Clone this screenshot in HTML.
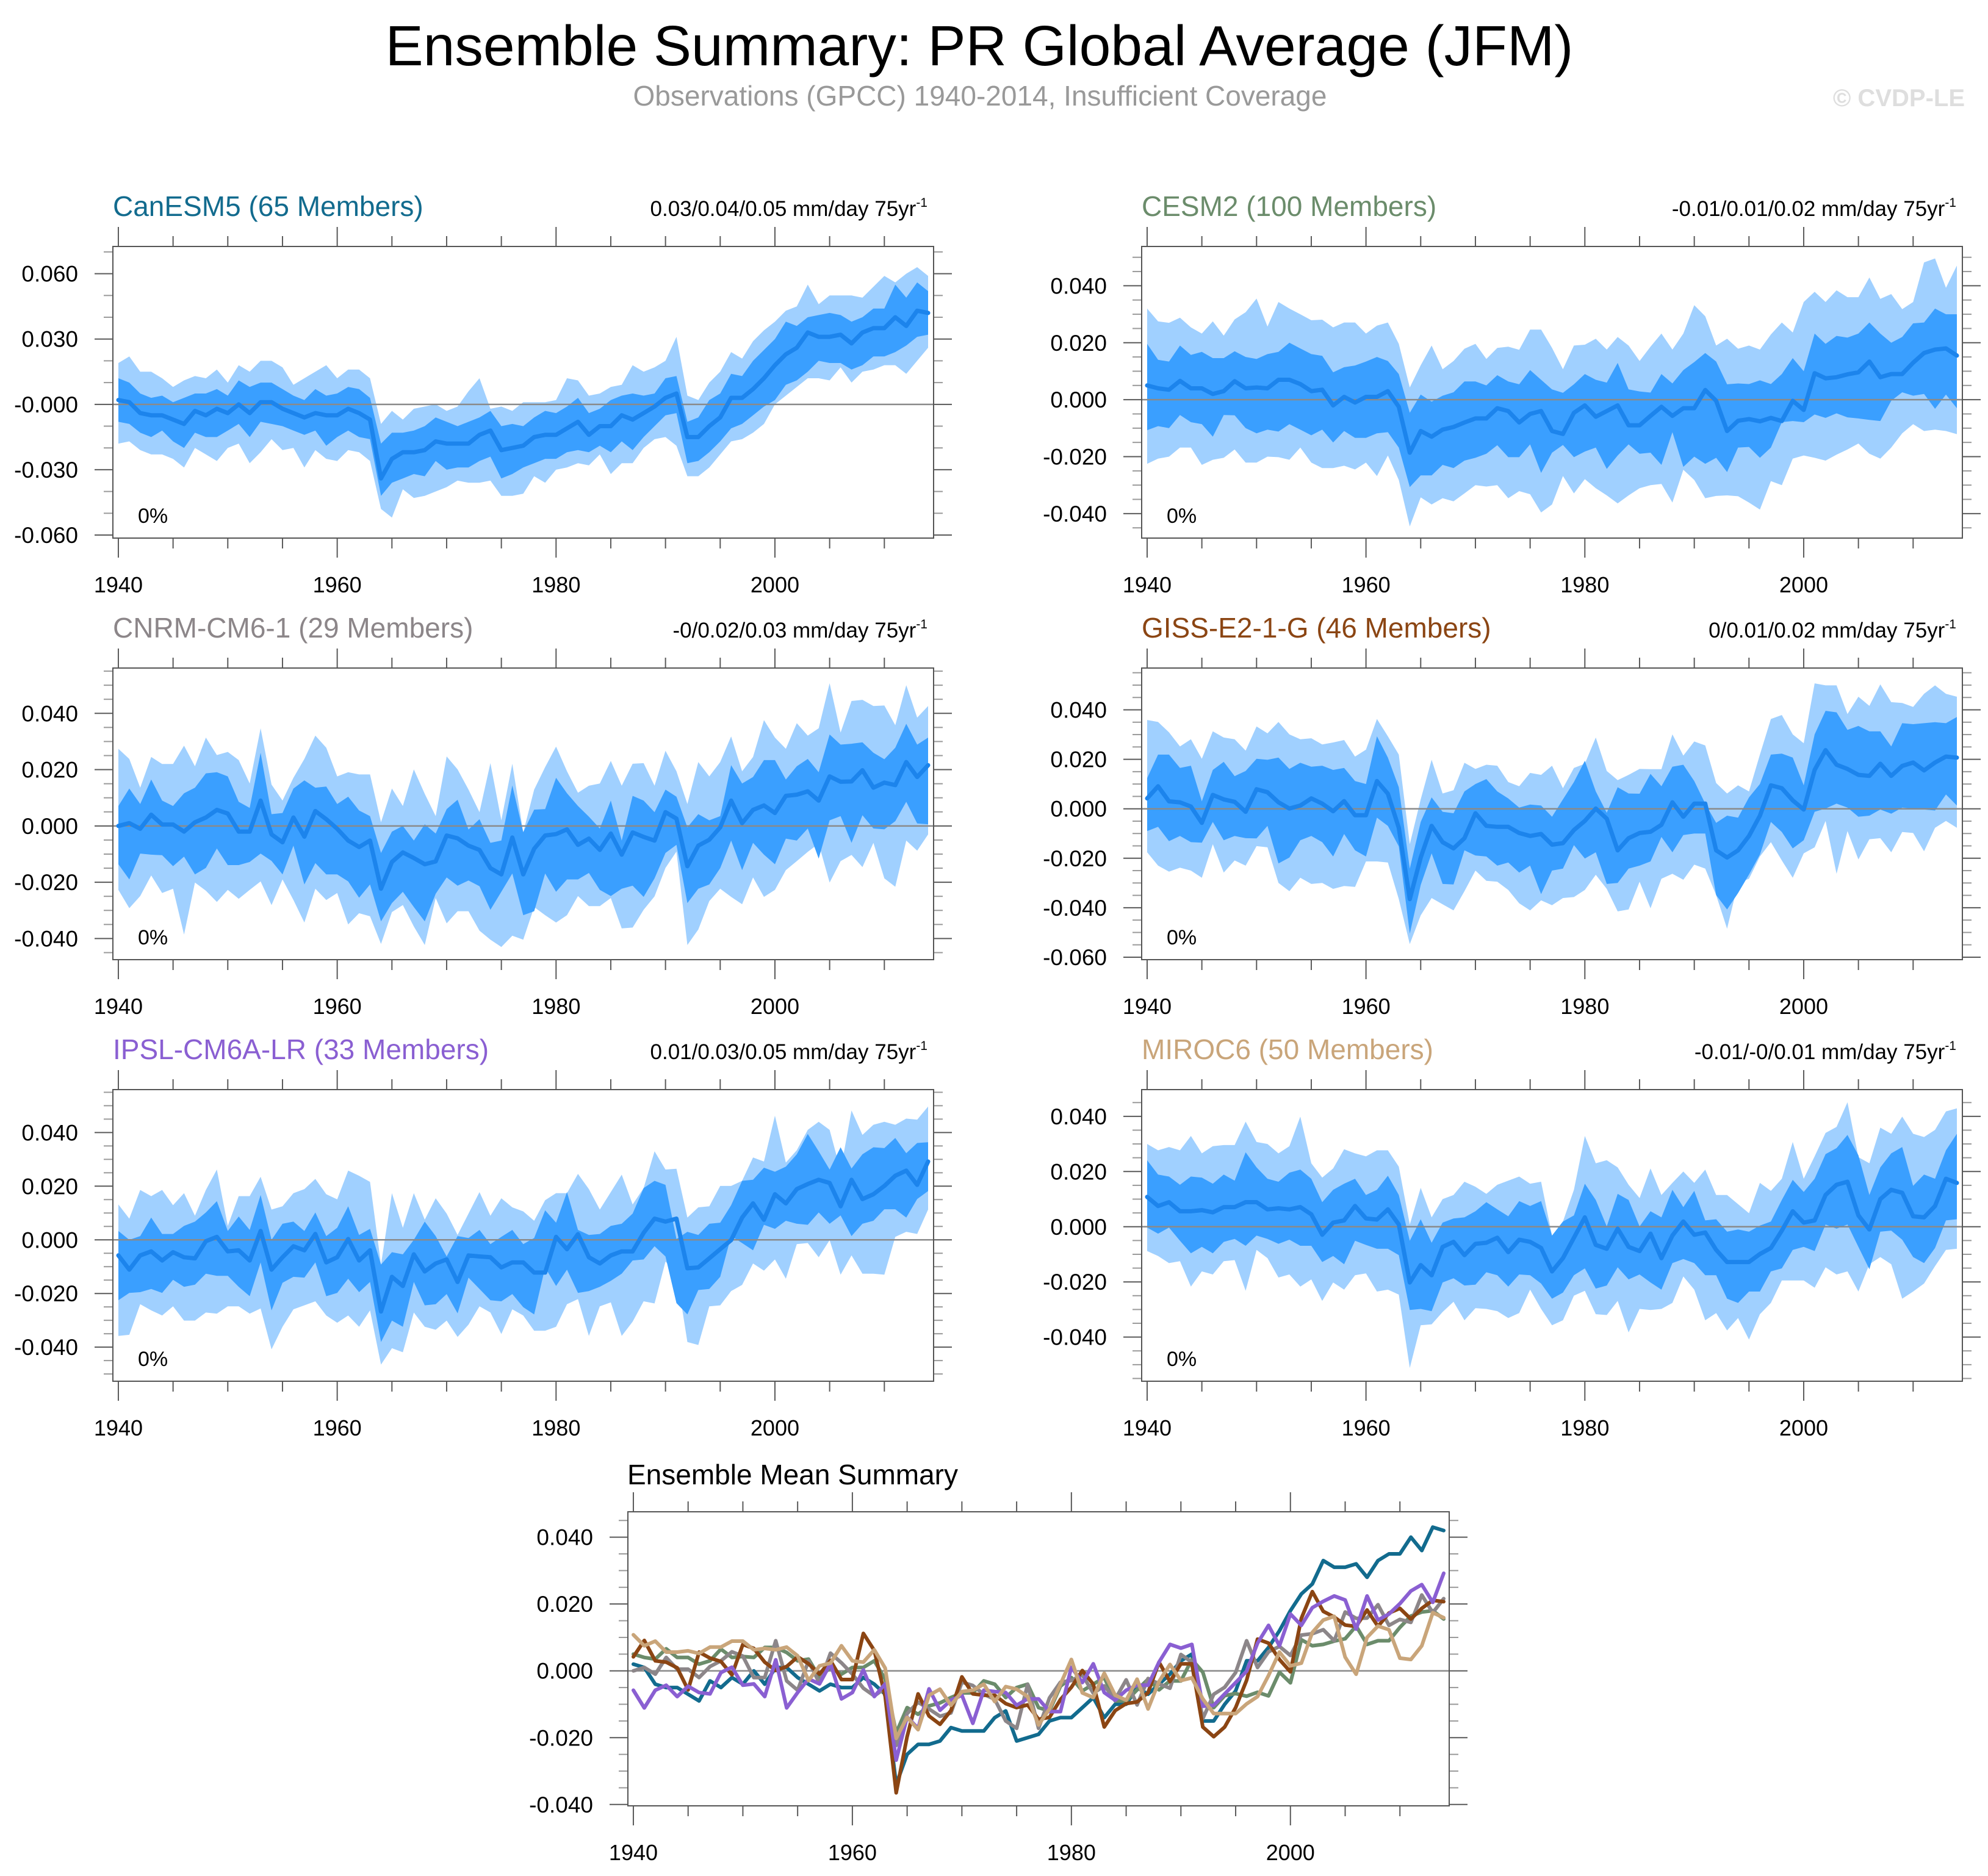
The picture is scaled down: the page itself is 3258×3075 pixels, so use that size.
<!DOCTYPE html>
<html><head><meta charset="utf-8"><title>Ensemble Summary: PR Global Average (JFM)</title>
<style>
html,body{margin:0;padding:0;background:#fff;}
svg{display:block;font-family:"Liberation Sans",Arial,sans-serif;}
</style></head>
<body>
<svg id="chart" xmlns="http://www.w3.org/2000/svg" width="3258" height="3075" viewBox="0 0 3258 3075">
<rect x="0" y="0" width="3258" height="3075" fill="#fff"/>
<text x="1605" y="107" font-size="93" text-anchor="middle" fill="#000">Ensemble Summary: PR Global Average (JFM)</text>
<text x="1606" y="173" font-size="46" text-anchor="middle" fill="#999">Observations (GPCC) 1940-2014, Insufficient Coverage</text>
<text x="3220" y="174" font-size="40" font-weight="bold" text-anchor="end" fill="#dedede">© CVDP-LE</text>
</svg>
<script>
// values in units of 0.001 mm/day, years 1940..2014
const firstYear = 1940;
const nYears = 75;
const xTickYears = [1940,1960,1980,2000];
const yTicksA = [0.06,0.03,0,-0.03,-0.06];
const yLabelsA = ['0.060','0.030','-0.000','-0.030','-0.060'];
const yTicksB = [0.04,0.02,0,-0.02,-0.04];
const yLabelsB = ['0.040','0.020','0.000','-0.020','-0.040'];
const yTicksC = [0.04,0.02,0,-0.02,-0.04,-0.06];
const yLabelsC = ['0.040','0.020','0.000','-0.020','-0.040','-0.060'];

const canMean = [2,1,-4,-5,-5,-7,-9,-3,-5,-2,-4,0,-4,1,1,-2,-4,-6,-4,-5,-5,-2,-4,-7,-34,-25,-22,-22,-21,-17,-18,-18,-18,-14,-12,-21,-20,-19,-15,-14,-14,-11,-8,-14,-10,-10,-5,-7,-4,-1,3,5,-15,-15,-10,-6,3,3,7,12,18,23,26,33,31,31,32,28,33,35,35,40,36,43,42];
const canInHi = [12,10,5,3,4,1,3,5,5,7,4,11,8,10,10,7,4,2,7,4,5,8,7,3,-18,-13,-13,-12,-10,-6,-8,-10,-8,-6,-3,-10,-9,-10,-6,-3,-4,-1,3,-4,-2,2,4,5,4,5,12,13,-8,-6,2,5,14,13,20,25,30,38,36,40,41,42,41,38,40,44,44,55,49,56,52];
const canInLo = [-8,-9,-13,-15,-12,-17,-20,-13,-15,-15,-12,-9,-15,-8,-9,-10,-12,-14,-12,-19,-15,-12,-15,-16,-42,-36,-34,-32,-33,-26,-30,-29,-29,-26,-24,-34,-32,-29,-27,-25,-25,-22,-21,-22,-19,-22,-17,-21,-15,-10,-5,-4,-27,-26,-22,-17,-11,-9,-5,-1,2,9,11,15,20,19,19,16,18,22,22,24,27,31,32];
const canOutHi = [19,22,15,15,12,8,11,13,12,16,10,18,15,20,20,17,9,12,15,18,12,16,16,12,-9,-3,-7,-2,-1,0,-3,-1,6,12,-2,-1,-3,1,1,1,2,12,11,4,5,8,9,18,15,17,20,31,4,2,10,15,24,21,29,34,38,43,45,55,46,50,50,50,49,54,59,56,60,63,59];
const canOutLo = [-18,-17,-21,-23,-23,-25,-29,-20,-23,-26,-20,-18,-27,-22,-16,-21,-20,-29,-21,-25,-26,-21,-22,-26,-48,-52,-39,-43,-42,-40,-38,-35,-36,-36,-35,-42,-42,-41,-33,-36,-30,-29,-27,-28,-23,-32,-27,-27,-20,-16,-15,-19,-33,-33,-29,-23,-17,-16,-13,-9,0,4,8,12,12,11,17,10,15,16,18,18,14,20,26];

const cesMean = [5,4,3.5,6.6,4,4,2,3,6.5,4,4.3,4,7,7,5.5,3,3.5,-2,1,-1,1,1,3,-2.5,-18.6,-11,-13,-10.5,-9.6,-8,-6.6,-6.6,-3,-4,-8,-5,-4,-11,-12,-4.6,-2,-6,-4,-2,-9,-9,-5.7,-2.5,-5.7,-3,-3,3.4,-0.4,-11,-7.4,-6.8,-7.6,-6.4,-7.5,-0.4,-3.6,9.3,7.5,7.9,8.9,9.6,13.4,7.9,9,9,13,16.4,17.6,18,15.5];
const cesInHi = [19.6,14,13.4,19,15.7,16.8,14.6,14.6,17,15,14.3,16,16.8,20,18,16,15.4,9.6,11.4,12,13.4,15,13.6,9,-4.6,1.8,-0.7,1.4,2.6,6.4,6.4,5,8.6,6.4,5.4,10.4,7,3.6,2.4,5.4,9,7,6,12.9,3.6,2.9,2.5,9,5.7,10.4,13.2,16.4,13.4,5.4,5.7,5.5,6.8,5.5,9,14.6,10,23.2,19.6,22.4,21.8,23.2,27.1,23.2,20,22,26.8,27.1,32,30,30];
const cesInLo = [-10.7,-9.3,-10,-5.4,-7.9,-8.6,-13,-5.4,-5.5,-10,-11.8,-10.5,-11.2,-8.6,-10.5,-12.5,-10.5,-15,-11,-13.4,-13.4,-11.8,-11.4,-16.8,-30.7,-26.6,-26.6,-22.9,-24,-21.4,-20.4,-19,-16,-20.2,-20.2,-15.7,-25.7,-18.6,-15.9,-20.2,-18.2,-16.8,-24.3,-19.6,-15.7,-19,-18.6,-22.9,-11.4,-23.6,-20,-22.5,-20.4,-25.4,-16.8,-16.6,-20.4,-16.8,-7.9,-7.5,-7.9,-5.2,-6.4,-4.8,-6.2,-6.6,-7.1,-7.5,-0.4,2.6,1.4,2,-3.2,1.8,-3];
const cesOutHi = [32,27.5,27,28.8,25.4,23.2,27.5,22.5,28.2,30.7,35.5,25.7,34.3,32,30,27.9,28.1,25.4,27.1,27.1,23.2,26,27.1,19.6,4.3,12.1,19,10.7,13.6,17.9,19.6,14.3,18.2,18.6,17.5,24.6,24.6,18.2,10.7,19,19.3,21.4,17.6,22,19,13.6,18.6,23.2,17.6,23.2,33.2,29.3,19,21.4,17.9,19,17.6,22.9,27.1,23.6,34.3,37.9,34.3,38.4,36,36,42.9,35.4,37.1,31.8,34.3,48.2,49.6,39.3,47.1];
const cesOutLo = [-22.5,-20.7,-20,-16.8,-16.8,-22.9,-21.1,-20.4,-17.5,-22.1,-22.1,-20,-20.2,-21.1,-16.8,-22.1,-24,-24,-23.2,-24.5,-22.1,-26.8,-19.6,-28.2,-44.5,-34.3,-36.8,-34.6,-35.7,-32.9,-30,-30.5,-30,-34.6,-32.1,-33.2,-39.6,-36.8,-26.8,-32.9,-27.9,-31.1,-33.6,-36.4,-33.6,-31.1,-30,-29.6,-36.1,-24.6,-28.2,-34.6,-33.8,-33.6,-33.9,-36.1,-38.6,-28.6,-30,-20.7,-19.6,-20.4,-21.4,-19.3,-17.5,-15.4,-19,-20.7,-16.8,-11.8,-8.6,-11,-10.5,-11,-12.1];

const cnrMean = [0,1,-1,4,0.5,0.5,-2,1.3,3,5.7,4.4,-2,-2,9,-3,-5.8,3,-3.8,5.3,2.4,-1,-5.2,-7.5,-5.2,-22.3,-12.8,-9.4,-11.4,-13.6,-12.6,-3.4,-4.4,-7,-8.5,-15,-17.2,-4.1,-17.2,-8.1,-3.4,-2.9,-1.2,-6.7,-4.5,-8.5,-2.7,-10.2,-2.3,-3.9,-5.2,4.9,2.6,-14.3,-7,-4.9,-0.5,9,1,5.7,7.3,4.6,10.7,11.1,12.3,9,17.6,15.7,15.8,19.8,13.6,15.4,14.5,22.7,17.4,21.6];
const cnrInHi = [7.1,13.3,7.8,16.5,9,7.1,11.6,13.6,18.7,19.1,17.6,8.6,6.4,26,4.2,4.6,13.3,16.2,13.6,14,7.8,10.4,5.5,3.5,-9.6,-2,0,-5.2,0.6,-2.7,6,9.3,-1.3,2.4,-6,-5.2,14.4,-2.2,5.8,6,17.1,11.6,7.1,3.3,-0.9,9,-5.2,10.7,9,4.9,12.9,10.4,-0.5,4.2,2,3.5,21.6,15.1,17.4,23.4,23.4,16.5,21.2,23.8,19.1,32.5,28.9,29.2,29.7,26,23.7,27.8,36.3,28.9,31.4];
const cnrInLo = [-13.6,-19,-9.8,-10.2,-10.4,-14.3,-10.9,-17.2,-14.9,-8,-13.9,-13.9,-12.8,-9.8,-12.4,-17.2,-7,-20.8,-13.2,-17.2,-17.2,-19.7,-25.5,-20.8,-33.9,-27.4,-23.4,-28.8,-33.9,-24.1,-18.3,-21.2,-19.4,-21.4,-29.8,-23.4,-16.9,-31.7,-30.3,-16.9,-23.4,-19,-19,-16.7,-22.7,-24.9,-22.3,-21.2,-25.2,-18.6,-9.6,-6.7,-27.4,-22.3,-20.8,-15,-5.2,-15.7,-6,-10.2,-13.6,-4.5,-5.2,-0.9,-11.6,2,3.5,-6,3.8,-0.9,-1.2,1.7,8.6,0.9,0.6];
const cnrOutHi = [27.4,23.8,13.6,24.5,22,22,28.5,21.2,31.4,25.2,26.3,23.4,15.1,34.7,14.7,9,17.1,23.8,32.1,27.8,17.6,19.1,18.3,18.3,1.3,13.3,7.1,20.1,11.4,3.5,24.7,20.1,12.9,4.9,22.3,2,22.1,-2.3,12.9,20.9,28.2,19.4,11.8,14.3,15.1,23.1,14.3,22.1,22.3,14.3,26.7,19.4,7.8,22.7,17.6,22.7,31.8,19.4,24.5,37.6,31.4,27.4,36.5,32.1,34.7,50.7,33.2,44.4,44.8,42.6,42.8,35.8,50,38.5,42.6];
const cnrOutLo = [-22.7,-29.2,-24.9,-17.6,-23.8,-22.3,-38.6,-20.1,-23,-27,-22.7,-25.9,-22.7,-19.7,-28.1,-19,-26.3,-34.3,-22.3,-26.3,-23.8,-35,-31,-32.1,-41.9,-30.6,-28.1,-35.7,-42.3,-25.6,-34.6,-30.3,-30.3,-37.2,-40.4,-43,-39,-40.4,-28.8,-31.7,-34.3,-31.7,-24.9,-28.5,-28.5,-25.6,-36.4,-36.1,-29.8,-25,-14.9,-9.1,-42.3,-36.8,-26.7,-22.3,-25.2,-27.8,-18.3,-25.2,-22.7,-15.7,-12.5,-9.2,-6.3,-20.1,-12.5,-10.3,-14.6,-6,-18.6,-21.6,-5.2,-8.8,-3];

const gisMean = [4.2,9.1,3,2.6,0.9,-5.7,5.6,3.8,2.8,-1.2,7.9,6.7,2.6,0.1,1.3,4.2,2.1,-1,3.1,-2.6,-2.6,11.2,6.1,-7.7,-36.5,-19.7,-6.9,-13.5,-16,-11.9,-1.8,-6.9,-7.3,-7.3,-9.8,-11,-10.2,-14.5,-13.9,-8.6,-4.9,0.1,-4,-16.8,-11.9,-9.8,-9.3,-6.5,2.6,-3.2,2.1,2.1,-16.8,-19.7,-16.8,-11,-2.8,9.5,8.3,3.4,-0.3,15.7,23.7,17.8,16.1,13.7,13.3,18.2,13.3,17.3,18.7,15.5,18.7,21.1,20.7];
const gisInHi = [12.4,21.9,21.9,16.5,17.4,3,15.7,19,13.2,15.3,20.2,19.8,20.7,16.1,18.6,17,17.4,15.7,16.5,11.2,10,29.3,20.7,8.7,-24.2,-5.3,4.6,-1.2,-1.8,7,10,12,7,4.2,0.5,1.7,1.3,-3.2,3.8,10.8,19.4,7,-1.6,8.7,6.2,6.1,14.1,9.1,17,17.8,11.2,2.1,-5.7,-2.8,-3.6,4.6,10,21.9,22.3,20.7,9.5,30.1,39.6,39,31.9,33.5,31.3,31.3,25.2,34.6,34.2,34.6,35,34.6,37.1];
const gisInLo = [-9,-7.3,-13.1,-11,-13.5,-13.7,-5.3,-12.7,-11,-11.9,-12,-6.9,-22.1,-19.7,-12.7,-11,-13.5,-19.3,-10.2,-16.8,-19.3,-3.6,-6.9,-15.2,-50.5,-30.8,-18,-30.4,-30.6,-16.8,-18.9,-19.3,-23,-21.7,-25.8,-23,-34.5,-25,-24.2,-14.7,-20.1,-17.6,-30.4,-30,-24.2,-23,-21.3,-11.4,-17.6,-10.6,-10,-10,-34.9,-40.7,-34.1,-26.6,-18.5,-5.3,-9.4,-16,-12.7,-1.2,0.1,2.1,0.5,-3.2,-2.8,-0.3,-2,0.5,0.1,-0.3,-0.7,5.8,1.3];
const gisOutHi = [35.9,35.1,30.9,25.2,28.1,20.2,31.3,28.8,28.1,23.5,33.3,30.5,35.1,30.1,28.1,28.5,26,26.8,27.8,21.1,23.9,36.3,29.3,21.9,-14.3,3.8,19.8,6.2,7.5,18.6,16.1,17.8,17.4,10.8,9.1,14.5,13.7,17.4,8.3,16.5,18.2,28.8,15.3,11.6,13.7,16.1,16,16,30.1,21.5,27.2,25.6,10.4,6.2,9.5,7,21.9,36.3,37.9,30.1,26.5,50.7,49.9,49.9,38.3,45.3,41.6,50.3,43.1,42.8,41.2,46.5,49.9,46.5,45.3];
const gisOutLo = [-17.6,-23,-25.4,-23.8,-25,-27.9,-14.3,-25.8,-20.9,-23,-15.1,-15.6,-30,-33.3,-27.9,-30.4,-30,-32.4,-31.2,-31.6,-21.3,-21.3,-21.7,-36.5,-54.7,-43.1,-36.1,-38.6,-41.1,-33.3,-25,-29.1,-29.5,-32.8,-38.2,-41.1,-37,-39,-36.1,-35.7,-32.8,-26.7,-32.4,-41.5,-40.7,-29.5,-40.2,-28.3,-26.3,-28.7,-22.6,-24.2,-34.9,-48.5,-30,-28.3,-19.3,-13.5,-20.9,-27.9,-18,-15.6,-4.9,-26.3,-9,-20.5,-12.3,-11.9,-17.6,-9.4,-9.8,-17.2,-7.7,-4.9,-7.7];

const ipsMean = [-5.8,-11.1,-5.8,-4.3,-7.7,-4.6,-6.5,-6.9,-0.5,1.1,-4.3,-3.9,-7.7,3.3,-11.1,-6.5,-2.4,-3.9,2.2,-8.4,-6.5,0.3,-7.7,-3.9,-26.7,-13.8,-17.2,-5.4,-11.8,-8.8,-7.3,-15.7,-5.8,-6.2,-6.5,-10.3,-8.4,-8.4,-12.2,-12.2,1.1,-3.5,2.1,-6.5,-8.8,-5.8,-4.3,-4.3,2.6,7.9,6.8,7.9,-10.6,-10.3,-6.9,-3.5,-0.1,8.3,13.6,7.5,17,13.6,18.9,20.8,22.4,21.2,12.5,22.4,15.2,17,20.1,23.9,25.8,20.5,29.2];
const ipsInHi = [3.3,0,1.4,8.3,2.2,2.2,5.2,6.8,10.2,14.4,3.3,8.7,3.7,16.7,0,6,6.8,3.3,10.2,1.4,4.5,12.5,1.8,4.1,-9.2,-4.6,-5.4,0,6.8,1.4,-6.2,1.4,0.7,3.7,-1.6,1.1,3.7,-1.6,0.7,11,6.4,17.8,3.7,1.8,2.2,5.2,6,9.8,19.3,22,20.5,0.3,3,1.8,6,6.4,12.9,22,22.4,26.9,25.4,27.3,31.9,39.5,33,26.2,34.5,26.6,31.9,34.5,34.2,38,32.3,36.1,36.4];
const ipsInLo = [-22.5,-19.8,-19.5,-18.3,-19.8,-14.9,-17.5,-16.7,-12.6,-13.4,-13.4,-17.5,-21,-8.4,-26.3,-16,-13.8,-14.1,-8.4,-21,-19.8,-14.5,-19.5,-15.7,-38.1,-30.1,-32.4,-15.7,-24.4,-24,-20.2,-27.4,-14.1,-18.3,-22.5,-22.9,-20.2,-25.1,-27.8,-10.3,-17.2,-11.1,-19.8,-19.1,-17.5,-15.3,-12.6,-7.7,-7.3,-2.4,-6.2,-23.6,-27.8,-18.7,-18.3,-13.8,1.4,-1.2,-3.9,5.6,4.1,7.1,6,5.6,10.2,6,9.1,1.4,6,7.1,11.4,11.4,8.3,15.2,18.2];
const ipsOutHi = [13.2,7.9,18.6,16.3,18.6,12.9,17.4,9,18.6,26.2,5.2,16.3,16.3,23.5,11.3,12.5,17.4,18.9,22.7,17,15.1,25.8,23.9,21.6,-9.2,17.4,4.5,17.4,7.5,15.5,9.8,1.8,9.8,17.8,9,15.5,12.1,10.6,7.1,14.8,17.4,17.4,24.6,18.9,11.3,17.8,24.3,13.2,19.3,33,26.2,26.5,8.3,12.1,12.5,20.1,20.1,22,30.7,29.2,46.3,28.8,33.4,41,44,41,25.8,48.2,39.1,42.9,44,42.9,45.2,44.8,49.7];
const ipsOutLo = [-35.8,-35.4,-24,-26.3,-28.2,-24.8,-30.1,-30.1,-27.1,-27.5,-24.8,-24.8,-27.5,-25.6,-40.8,-32.4,-25.9,-24.4,-22.9,-28.2,-30.9,-28.2,-32.4,-26.3,-46.5,-40.4,-41.9,-27.1,-32.4,-33.5,-30.1,-36.2,-31.6,-24.8,-27.1,-35.1,-25.9,-28.2,-33.9,-33.9,-32.4,-24,-22.1,-35.8,-24.8,-23.3,-35.8,-30.5,-22.9,-23.7,-8.1,-12.2,-38.1,-39.2,-24.8,-24.4,-19.1,-16.8,-8.8,-11.5,-7.3,-14.5,-1.6,-1.2,-6.5,-0.1,-13,-5.8,-12.6,-12.6,-13,1.1,3,2.2,11.3];

const mirMean = [10.8,7.5,8.9,5.6,5.6,6,5.2,7.1,7.1,8.9,8.9,6.3,6.7,6.3,7.1,4.5,-2.9,1.5,2.3,7.5,3,2.6,6.3,0.8,-20.2,-13.9,-17.6,-7.3,-5.5,-10.3,-6.2,-5.8,-4,-9.2,-4.7,-5.5,-7.7,-16.2,-11.4,-4,3.4,-6.6,-8,-0.7,-7.3,-8.8,-2.5,-11.4,-3.2,1.9,-2.9,-2.1,-8.4,-12.8,-12.8,-12.8,-9.9,-7.7,-1.4,5.6,1.5,2.3,11.5,15.2,16.3,4.1,-1,10,13.4,12.3,3.8,3.4,7.5,17.4,15.9];
const mirInHi = [24.1,18.9,18.2,15.2,18.2,17.8,15.6,18.9,16.7,27,21.5,17.4,16.3,19.6,20.7,17.4,8.9,13.4,15.6,17.4,11.5,13.4,18.5,11.5,-5.1,2.7,-5.8,1.5,3,3.4,5.6,8.9,6.3,3.8,9.3,7.5,9.3,-3.2,1.9,4.1,15.6,9.7,0.1,11.9,9.7,0.1,5.6,3.4,13.4,7.1,13,2.3,2.7,-1.8,-1,-1.8,0.4,1.9,9.7,17,12.6,17.4,26.3,28.5,33.3,25.9,11.5,21.5,26.6,28.9,14.8,18.9,17.4,27.7,33.7];
const mirInLo = [-0.3,-2.5,-0.3,-5.1,-9.6,-7.3,-9.6,-5.5,-4.4,-6.9,-3.2,-4.4,-6.2,-4.7,-6.9,-6.9,-12.8,-10.6,-13.6,-5.1,-6.6,-8,-8,-10.3,-30.2,-29.8,-30.6,-20.2,-18.7,-21.3,-21,-16.5,-17.6,-21.7,-17.3,-17.6,-20.6,-26.1,-23.9,-17.6,-15.1,-22.4,-21.3,-14.7,-19.1,-17.3,-20.2,-22.8,-13.2,-11.7,-13.2,-17.6,-17.6,-26.1,-27.6,-23.5,-23.5,-16.2,-15.1,-8.4,-7.3,-8.8,0.8,-0.7,0.8,-7.3,-15.4,-1.8,-1.4,-4.7,-11,-13.2,-7.7,2.3,2.7];
const mirOutHi = [30,27.7,28.9,27.7,32.9,26.6,29.2,29.6,29.6,38.1,30.7,30,26.6,29.2,39.9,23,17.8,21.1,28.1,26.6,25.5,27.7,27.7,21.8,0.8,14.1,3.4,10,11.5,16.3,14.5,11.9,15.2,16.7,18.2,15.6,16.3,-3.2,1.9,13.4,32.9,23,24.1,21.5,15.2,10.4,21.1,11.5,15.9,20,15.9,20.7,11.5,11.5,8.2,4.9,15.9,13,17.4,30.7,17.4,25.5,34,36.2,45.1,25.2,23,35.9,33.7,39.9,33.7,32.5,35.1,41.8,42.9];
const mirOutLo = [-8.8,-10.6,-13.2,-12.5,-21.7,-16.2,-17.3,-12.5,-12.1,-23.2,-8.4,-11.4,-18.4,-17.3,-21.7,-19.1,-26.9,-20.2,-22.8,-17.6,-16.9,-23.5,-22.8,-24.6,-51.2,-35.7,-35.4,-30.9,-27.2,-33.9,-29.5,-29.8,-30.6,-33.1,-31.3,-22.8,-29.8,-35.7,-33.9,-25,-23.2,-31.7,-32,-26.9,-38.3,-29.8,-30.2,-29.8,-27.6,-18,-22.8,-33.9,-31.3,-37.6,-33.1,-40.9,-31.7,-27.6,-19.5,-19.5,-19.5,-22.1,-14.7,-17.3,-16.2,-23.5,-13.6,-11,-13.6,-26.1,-23.5,-20.6,-14.3,-8.4,-8];

const NS = 'http://www.w3.org/2000/svg';
const svg = document.getElementById('chart');
function mk(tag, attrs, parent) {
  const e = document.createElementNS(NS, tag);
  for (const k in attrs) e.setAttribute(k, attrs[k]);
  (parent || svg).appendChild(e);
  return e;
}
const S = 0.001;
const TICK = '#5a5a5a';

function makeAxes(cfg) {
  const g = mk('g', {});
  
  
  const x = yr => cfg.x0 + (yr - (firstYear - 0.5)) / nYears * cfg.w;
  const y = v => cfg.y0 + (cfg.ymax - v) / (cfg.ymax - cfg.ymin) * cfg.h;
  return {g, x, y};
}

function drawFrame(cfg, ax) {
  const {g, x, y} = ax;
  const x1 = cfg.x0 + cfg.w, y1 = cfg.y0 + cfg.h;
  const z = mk('line', {x1: cfg.x0, x2: x1, y1: y(0), y2: y(0), stroke: '#8a8a8a', 'stroke-width': 2.5}, g);
  
  
  for (let yr = 1940; yr <= 2014; yr += 5) {
    const major = (yr % 20 === 0);
    const len = major ? 32 : 17;
    const t1 = mk('line', {x1: x(yr), x2: x(yr), y1: cfg.y0, y2: cfg.y0 - len, stroke: TICK, 'stroke-width': 2}, g);
    
    
    const t2 = mk('line', {x1: x(yr), x2: x(yr), y1: y1, y2: y1 + len, stroke: TICK, 'stroke-width': 2}, g);
    
    
  }
  xTickYears.forEach(yr => {
    const t = mk('text', {x: x(yr), y: y1 + 89, 'font-size': 36, 'text-anchor': 'middle', fill: '#000'}, g);
    t.textContent = String(yr);
    
    
  });
  const step = cfg.minor;
  const start = Math.ceil(cfg.ymin / step - 1e-6);
  const end = Math.floor(cfg.ymax / step + 1e-6);
  for (let k = start; k <= end; k++) {
    const v = k * step;
    const isMajor = cfg.yt.some(t => Math.abs(t - v) < 1e-9);
    const len = isMajor ? 30 : 15;
    const a = mk('line', {x1: cfg.x0, x2: cfg.x0 - len, y1: y(v), y2: y(v), stroke: isMajor ? TICK : '#9a9a9a', 'stroke-width': 2}, g);
    
    
    const b = mk('line', {x1: x1, x2: x1 + len, y1: y(v), y2: y(v), stroke: isMajor ? TICK : '#9a9a9a', 'stroke-width': 2}, g);
    
    
  }
  cfg.yt.forEach((v, i) => {
    const t = mk('text', {x: cfg.x0 - 57, y: y(v) + 13, 'font-size': 37, 'text-anchor': 'end', fill: '#000'}, g);
    t.textContent = cfg.yl[i];
    
    
  });
  const box = mk('rect', {x: cfg.x0, y: cfg.y0, width: cfg.w, height: cfg.h, fill: 'none', stroke: '#555', 'stroke-width': 2}, g);
  
  
}

function band(ax, hi, lo, color, name) {
  let pts = [];
  for (let i = 0; i < hi.length; i++) pts.push(ax.x(firstYear + i).toFixed(1) + ',' + ax.y(hi[i] * S).toFixed(1));
  for (let i = lo.length - 1; i >= 0; i--) pts.push(ax.x(firstYear + i).toFixed(1) + ',' + ax.y(lo[i] * S).toFixed(1));
  const p = mk('polygon', {points: pts.join(' '), fill: color, stroke: 'none'}, ax.g);
  
  
}
function line(ax, vals, color, width, name) {
  const d = vals.map((v, i) => (i ? 'L' : 'M') + ax.x(firstYear + i).toFixed(1) + ',' + ax.y(v * S).toFixed(1)).join(' ');
  const p = mk('path', {d: d, fill: 'none', stroke: color, 'stroke-width': width, 'stroke-linejoin': 'round', 'stroke-linecap': 'round'}, ax.g);
  
  
}

const LX = 185, RX = 1871, PW = 1345, PH = 478;
const panels = [
  {name: 'canesm5', title: 'CanESM5 (65 Members)', color: '#126b8e', trend: '0.03/0.04/0.05 mm/day 75yr', x0: LX, y0: 404, ymax: 0.0725, ymin: -0.0614, yt: yTicksA, yl: yLabelsA, minor: 0.01, d: [canMean, canInHi, canInLo, canOutHi, canOutLo]},
  {name: 'cesm2', title: 'CESM2 (100 Members)', color: '#6b8c6b', trend: '-0.01/0.01/0.02 mm/day 75yr', x0: RX, y0: 404, ymax: 0.0538, ymin: -0.0486, yt: yTicksB, yl: yLabelsB, minor: 0.005, d: [cesMean, cesInHi, cesInLo, cesOutHi, cesOutLo]},
  {name: 'cnrm-cm6-1', title: 'CNRM-CM6-1 (29 Members)', color: '#8c8689', trend: '-0/0.02/0.03 mm/day 75yr', x0: LX, y0: 1095, ymax: 0.0561, ymin: -0.0475, yt: yTicksB, yl: yLabelsB, minor: 0.005, d: [cnrMean, cnrInHi, cnrInLo, cnrOutHi, cnrOutLo]},
  {name: 'giss-e2-1-g', title: 'GISS-E2-1-G (46 Members)', color: '#8b4513', trend: '0/0.01/0.02 mm/day 75yr', x0: RX, y0: 1095, ymax: 0.0569, ymin: -0.0610, yt: yTicksC, yl: yLabelsC, minor: 0.005, d: [gisMean, gisInHi, gisInLo, gisOutHi, gisOutLo]},
  {name: 'ipsl-cm6a-lr', title: 'IPSL-CM6A-LR (33 Members)', color: '#8a5fd2', trend: '0.01/0.03/0.05 mm/day 75yr', x0: LX, y0: 1786, ymax: 0.0560, ymin: -0.0527, yt: yTicksB, yl: yLabelsB, minor: 0.005, d: [ipsMean, ipsInHi, ipsInLo, ipsOutHi, ipsOutLo]},
  {name: 'miroc6', title: 'MIROC6 (50 Members)', color: '#c9a57a', trend: '-0.01/-0/0.01 mm/day 75yr', x0: RX, y0: 1786, ymax: 0.0497, ymin: -0.0560, yt: yTicksB, yl: yLabelsB, minor: 0.005, d: [mirMean, mirInHi, mirInLo, mirOutHi, mirOutLo]}
];

panels.forEach(cfg => {
  cfg.w = PW; cfg.h = PH;
  const ax = makeAxes(cfg);
  band(ax, cfg.d[3], cfg.d[4], '#a0d0ff', 'outer-spread-band');
  band(ax, cfg.d[1], cfg.d[2], '#3a9fff', 'inner-spread-band');
  drawFrame(cfg, ax);
  line(ax, cfg.d[0], '#1c84ec', 7, 'ensemble-mean-line');
  const t = mk('text', {x: cfg.x0, y: cfg.y0 - 50, 'font-size': 46, fill: cfg.color}, ax.g);
  t.textContent = cfg.title;
  
  
  const tr = mk('text', {x: cfg.x0 + cfg.w - 10, y: cfg.y0 - 50, 'font-size': 35, 'text-anchor': 'end', fill: '#000'}, ax.g);
  tr.textContent = cfg.trend;
  const sup = mk('tspan', {'font-size': 21, dy: -15}, tr);
  sup.textContent = '-1';
  
  
  const pc = mk('text', {x: cfg.x0 + 41, y: cfg.y0 + cfg.h - 25, 'font-size': 34, fill: '#000'}, ax.g);
  pc.textContent = '0%';
  
  
});

const sumCfg = {name: 'ensemble-mean-summary', x0: 1029, y0: 2478, w: 1346, h: 482, ymax: 0.0476, ymin: -0.0404, yt: yTicksB, yl: yLabelsB, minor: 0.005};
const sax = makeAxes(sumCfg);
drawFrame(sumCfg, sax);
const st = mk('text', {x: 1028, y: 2433, 'font-size': 46, fill: '#000'}, sax.g);
st.textContent = 'Ensemble Mean Summary';


panels.forEach(cfg => {
  line(sax, cfg.d[0], cfg.color, 6, cfg.name + '-mean-line');
});
</script>
</body></html>
